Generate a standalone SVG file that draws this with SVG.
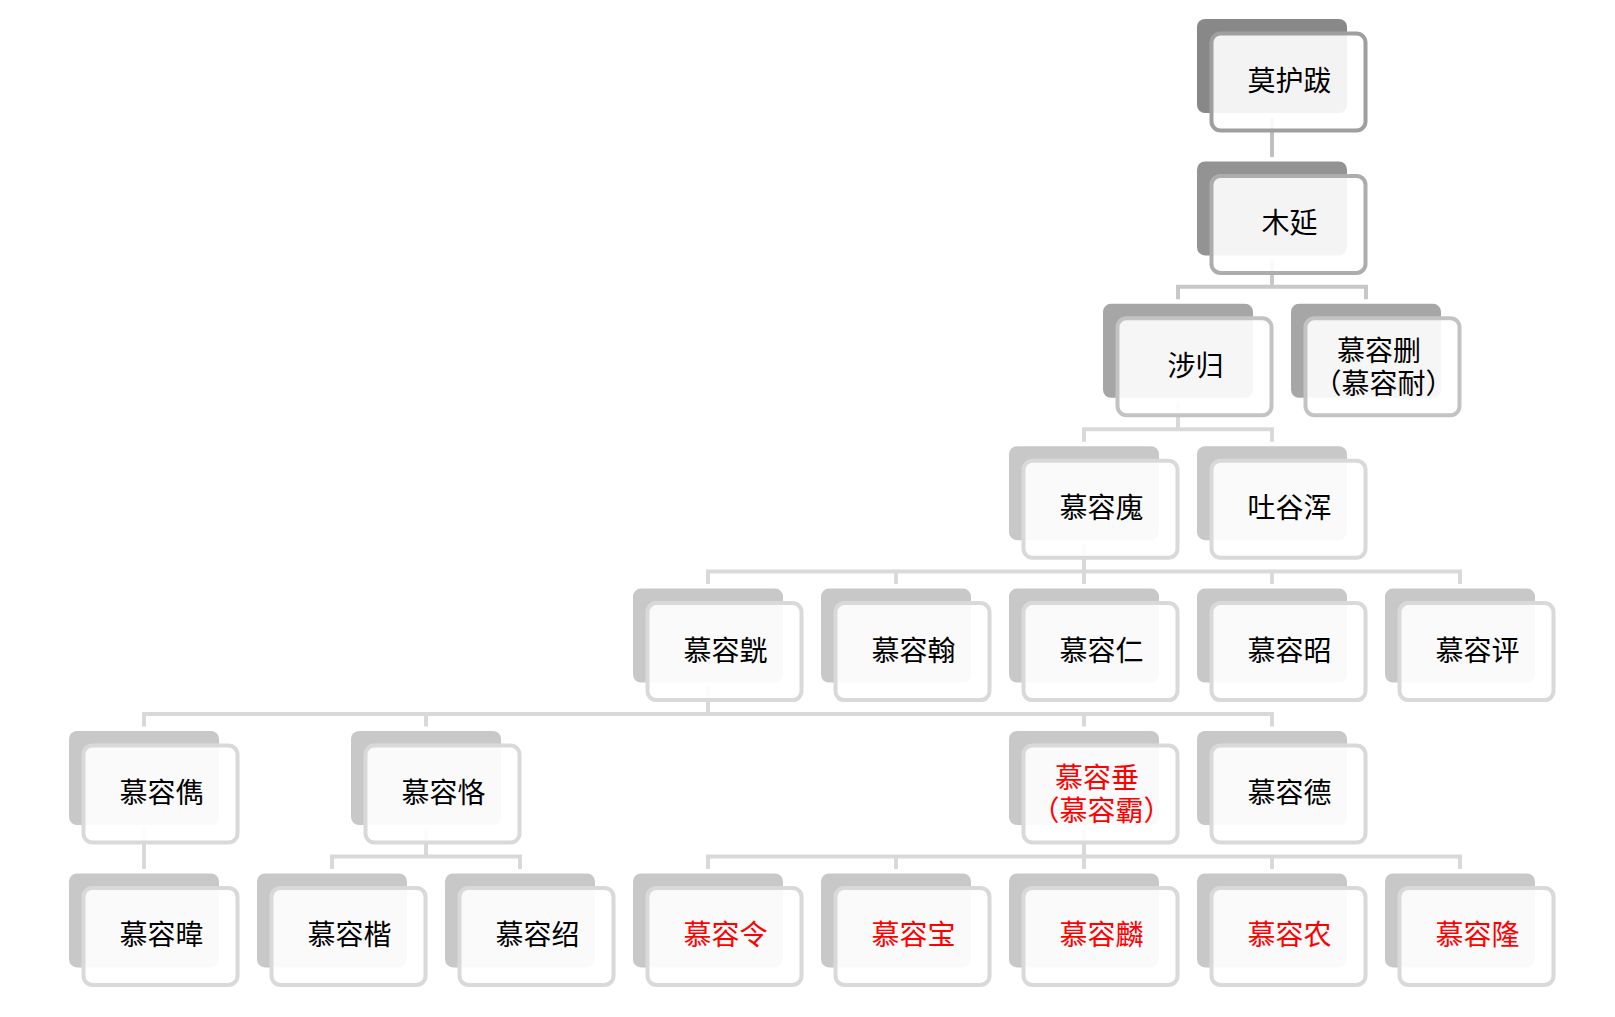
<svg xmlns="http://www.w3.org/2000/svg" width="1615" height="1017" viewBox="0 0 1615 1017">
<style>
.fr{fill:#ffffff;fill-opacity:0.9;stroke-width:4}
.L0 .bk{fill:#888888} .L0 .fr{stroke:#9f9f9f}
.L1 .bk{fill:#939393} .L1 .fr{stroke:#adadad}
.L2 .bk{fill:#a6a6a6} .L2 .fr{stroke:#c3c3c3}
.L3 .bk{fill:#c8c8c8} .L3 .fr{stroke:#d9d9d9}
.t{font-family:"Noto Sans CJK SC","Noto Sans CJK TC",sans-serif;font-size:28px;text-anchor:middle;fill:#000000}
.red{fill:#ff0000}
.cn path{fill:none;stroke-width:4;stroke-linejoin:miter;stroke-linecap:butt}
</style>
<rect x="0" y="0" width="1615" height="1017" fill="#ffffff"/>
<g id="connectors" class="cn">
<path d="M1272 117 V157" stroke="#c0c0c0"/>
<path d="M1272 259.4 V286.8 M1178 299.3 V286.8 H1366 V299.3" stroke="#c8c8c8"/>
<path d="M1178 401.8 V429.2 M1084 441.7 V429.2 H1272 V441.7" stroke="#d9d9d9"/>
<path d="M1084 544.2 V571.6 M708 584.1 V571.6 H1460 V584.1 M896 571.6 V584.1 M1084 571.6 V584.1 M1272 571.6 V584.1" stroke="#d9d9d9"/>
<path d="M708 686.6 V714 M144 726.5 V714 H1272 V726.5 M426 714 V726.5 M1084 714 V726.5" stroke="#d9d9d9"/>
<path d="M144 829 V868.9" stroke="#d9d9d9"/>
<path d="M426 829 V856.4 M332 868.9 V856.4 H520 V868.9" stroke="#d9d9d9"/>
<path d="M1084 829 V856.4 M708 868.9 V856.4 H1460 V868.9 M896 856.4 V868.9 M1084 856.4 V868.9 M1272 856.4 V868.9" stroke="#d9d9d9"/>
</g>
<g id="n-muhuba" class="L0" transform="translate(1197,19)"><rect class="bk" width="150" height="94" rx="8"/><rect class="fr" x="14.5" y="14.5" width="154" height="97" rx="9"/><text class="t" x="92.5" y="72">莫护跋</text></g>
<g id="n-muyan" class="L1" transform="translate(1197,161.4)"><rect class="bk" width="150" height="94" rx="8"/><rect class="fr" x="14.5" y="14.5" width="154" height="97" rx="9"/><text class="t" x="92.5" y="72">木延</text></g>
<g id="n-shegui" class="L2" transform="translate(1103,303.8)"><rect class="bk" width="150" height="94" rx="8"/><rect class="fr" x="14.5" y="14.5" width="154" height="97" rx="9"/><text class="t" x="92.5" y="72">涉归</text></g>
<g id="n-murongshan" class="L2" transform="translate(1291,303.8)"><rect class="bk" width="150" height="94" rx="8"/><rect class="fr" x="14.5" y="14.5" width="154" height="97" rx="9"/><text class="t"><tspan x="88" y="57">慕容删</tspan><tspan x="92.5" y="90">（慕容耐）</tspan></text></g>
<g id="n-muronghui" class="L3" transform="translate(1009,446.2)"><rect class="bk" width="150" height="94" rx="8"/><rect class="fr" x="14.5" y="14.5" width="154" height="97" rx="9"/><text class="t" x="92.5" y="72">慕容廆</text></g>
<g id="n-tuyuhun" class="L3" transform="translate(1197,446.2)"><rect class="bk" width="150" height="94" rx="8"/><rect class="fr" x="14.5" y="14.5" width="154" height="97" rx="9"/><text class="t" x="92.5" y="72">吐谷浑</text></g>
<g id="n-muronghuang" class="L3" transform="translate(633,588.6)"><rect class="bk" width="150" height="94" rx="8"/><rect class="fr" x="14.5" y="14.5" width="154" height="97" rx="9"/><text class="t" x="92.5" y="72">慕容皝</text></g>
<g id="n-muronghan" class="L3" transform="translate(821,588.6)"><rect class="bk" width="150" height="94" rx="8"/><rect class="fr" x="14.5" y="14.5" width="154" height="97" rx="9"/><text class="t" x="92.5" y="72">慕容翰</text></g>
<g id="n-murongren" class="L3" transform="translate(1009,588.6)"><rect class="bk" width="150" height="94" rx="8"/><rect class="fr" x="14.5" y="14.5" width="154" height="97" rx="9"/><text class="t" x="92.5" y="72">慕容仁</text></g>
<g id="n-murongzhao" class="L3" transform="translate(1197,588.6)"><rect class="bk" width="150" height="94" rx="8"/><rect class="fr" x="14.5" y="14.5" width="154" height="97" rx="9"/><text class="t" x="92.5" y="72">慕容昭</text></g>
<g id="n-murongping" class="L3" transform="translate(1385,588.6)"><rect class="bk" width="150" height="94" rx="8"/><rect class="fr" x="14.5" y="14.5" width="154" height="97" rx="9"/><text class="t" x="92.5" y="72">慕容评</text></g>
<g id="n-murongjun" class="L3" transform="translate(69,731)"><rect class="bk" width="150" height="94" rx="8"/><rect class="fr" x="14.5" y="14.5" width="154" height="97" rx="9"/><text class="t" x="92.5" y="72">慕容儁</text></g>
<g id="n-murongke" class="L3" transform="translate(351,731)"><rect class="bk" width="150" height="94" rx="8"/><rect class="fr" x="14.5" y="14.5" width="154" height="97" rx="9"/><text class="t" x="92.5" y="72">慕容恪</text></g>
<g id="n-murongchui" class="L3" transform="translate(1009,731)"><rect class="bk" width="150" height="94" rx="8"/><rect class="fr" x="14.5" y="14.5" width="154" height="97" rx="9"/><text class="t red"><tspan x="88" y="57">慕容垂</tspan><tspan x="92.5" y="90">（慕容霸）</tspan></text></g>
<g id="n-murongde" class="L3" transform="translate(1197,731)"><rect class="bk" width="150" height="94" rx="8"/><rect class="fr" x="14.5" y="14.5" width="154" height="97" rx="9"/><text class="t" x="92.5" y="72">慕容德</text></g>
<g id="n-murongwei" class="L3" transform="translate(69,873.4)"><rect class="bk" width="150" height="94" rx="8"/><rect class="fr" x="14.5" y="14.5" width="154" height="97" rx="9"/><text class="t" x="92.5" y="72">慕容暐</text></g>
<g id="n-murongkai" class="L3" transform="translate(257,873.4)"><rect class="bk" width="150" height="94" rx="8"/><rect class="fr" x="14.5" y="14.5" width="154" height="97" rx="9"/><text class="t" x="92.5" y="72">慕容楷</text></g>
<g id="n-murongshao" class="L3" transform="translate(445,873.4)"><rect class="bk" width="150" height="94" rx="8"/><rect class="fr" x="14.5" y="14.5" width="154" height="97" rx="9"/><text class="t" x="92.5" y="72">慕容绍</text></g>
<g id="n-murongling" class="L3" transform="translate(633,873.4)"><rect class="bk" width="150" height="94" rx="8"/><rect class="fr" x="14.5" y="14.5" width="154" height="97" rx="9"/><text class="t red" x="92.5" y="72">慕容令</text></g>
<g id="n-murongbao" class="L3" transform="translate(821,873.4)"><rect class="bk" width="150" height="94" rx="8"/><rect class="fr" x="14.5" y="14.5" width="154" height="97" rx="9"/><text class="t red" x="92.5" y="72">慕容宝</text></g>
<g id="n-muronglin" class="L3" transform="translate(1009,873.4)"><rect class="bk" width="150" height="94" rx="8"/><rect class="fr" x="14.5" y="14.5" width="154" height="97" rx="9"/><text class="t red" x="92.5" y="72">慕容麟</text></g>
<g id="n-murongnong" class="L3" transform="translate(1197,873.4)"><rect class="bk" width="150" height="94" rx="8"/><rect class="fr" x="14.5" y="14.5" width="154" height="97" rx="9"/><text class="t red" x="92.5" y="72">慕容农</text></g>
<g id="n-muronglong" class="L3" transform="translate(1385,873.4)"><rect class="bk" width="150" height="94" rx="8"/><rect class="fr" x="14.5" y="14.5" width="154" height="97" rx="9"/><text class="t red" x="92.5" y="72">慕容隆</text></g>
</svg>
